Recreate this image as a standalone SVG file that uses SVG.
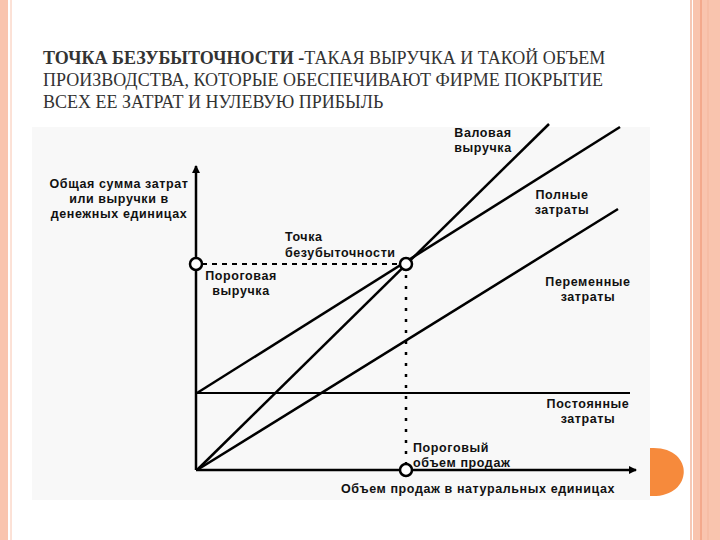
<svg xmlns="http://www.w3.org/2000/svg" width="720" height="540" viewBox="0 0 720 540">
<style>
.t{font-family:"Liberation Serif","Times New Roman","DejaVu Serif",serif;font-size:18px;fill:#333}
.l{font-family:"Liberation Sans",Arial,sans-serif;font-size:12.5px;font-weight:bold;fill:#111;letter-spacing:0.6px}
.ln{stroke:#000;stroke-width:2.5;fill:none}
.c{fill:#fff;stroke:#000;stroke-width:2.5}
</style>
<defs><marker id="a" markerWidth="8" markerHeight="8" refX="7" refY="4" orient="auto" markerUnits="userSpaceOnUse"><path d="M0,0 L8,4 L0,8 z" fill="#000"/></marker></defs>
<rect width="720" height="540" fill="#fff"/>
<rect x="0" y="0" width="8" height="540" fill="#f9c4ae"/>
<line x1="11" y1="0" x2="11" y2="540" stroke="#f9c4ae" stroke-width="1"/>
<rect x="693" y="0" width="27" height="540" fill="#f9c4ae"/>
<line x1="691" y1="0" x2="691" y2="540" stroke="#f3b69c" stroke-width="1.5"/>
<line x1="701" y1="0" x2="701" y2="540" stroke="#ee8e6a" stroke-width="1"/>
<line x1="708" y1="0" x2="708" y2="540" stroke="#f3b69c" stroke-width="1"/>
<text class="t"><tspan x="43" y="64"><tspan font-weight="bold">ТОЧКА БЕЗУБЫТОЧНОСТИ -</tspan>ТАКАЯ ВЫРУЧКА И ТАКОЙ ОБЪЕМ</tspan><tspan x="43" y="86">ПРОИЗВОДСТВА, КОТОРЫЕ ОБЕСПЕЧИВАЮТ ФИРМЕ ПОКРЫТИЕ</tspan><tspan x="43" y="108">ВСЕХ ЕЕ ЗАТРАТ И НУЛЕВУЮ ПРИБЫЛЬ</tspan></text>
<rect x="32" y="127" width="618" height="373" fill="#f8f8f8"/>
<path d="M650,448 C695,445 695,498 650,496 Z" fill="#f68a3c"/>
<g id="connectors">
<line class="ln" x1="196" y1="470" x2="196" y2="166" marker-end="url(#a)"/>
<line class="ln" x1="196" y1="470" x2="636" y2="470" marker-end="url(#a)"/>
<line x1="196" y1="393" x2="630" y2="393" stroke="#000" stroke-width="2"/>
<line class="ln" x1="197" y1="470" x2="549" y2="124"/>
<line class="ln" x1="197" y1="393" x2="620" y2="127"/>
<line class="ln" x1="197" y1="470" x2="618" y2="209"/>
<line x1="202" y1="264" x2="400" y2="264" stroke="#000" stroke-width="2" stroke-dasharray="5,5"/>
<line x1="406" y1="275" x2="406" y2="464" stroke="#000" stroke-width="2.5" stroke-dasharray="3,8"/>
</g>
<g id="n-pr"><circle class="c" cx="196" cy="264" r="6"/></g>
<g id="n-be"><circle class="c" cx="406" cy="264" r="6"/></g>
<g id="n-pv"><circle class="c" cx="406" cy="470" r="6"/></g>
<g id="labels">
<text class="l" text-anchor="middle"><tspan x="119" y="188">Общая сумма затрат</tspan><tspan x="119" y="203">или выручки в</tspan><tspan x="119" y="218">денежных единицах</tspan></text>
<text class="l" text-anchor="middle"><tspan x="241" y="280">Пороговая</tspan><tspan x="241" y="295">выручка</tspan></text>
<text class="l"><tspan x="285" y="241">Точка</tspan><tspan x="285" y="257">безубыточности</tspan></text>
<text class="l" text-anchor="middle"><tspan x="483" y="137">Валовая</tspan><tspan x="483" y="152">выручка</tspan></text>
<text class="l" text-anchor="middle"><tspan x="562" y="199">Полные</tspan><tspan x="562" y="214">затраты</tspan></text>
<text class="l" text-anchor="middle"><tspan x="588" y="286">Переменные</tspan><tspan x="588" y="301">затраты</tspan></text>
<text class="l" text-anchor="middle"><tspan x="588" y="408">Постоянные</tspan><tspan x="588" y="423">затраты</tspan></text>
<text class="l"><tspan x="413" y="452">Пороговый</tspan><tspan x="413" y="467">объем продаж</tspan></text>
<text class="l" text-anchor="middle" x="478" y="493">Объем продаж в натуральных единицах</text>
</g>
</svg>
